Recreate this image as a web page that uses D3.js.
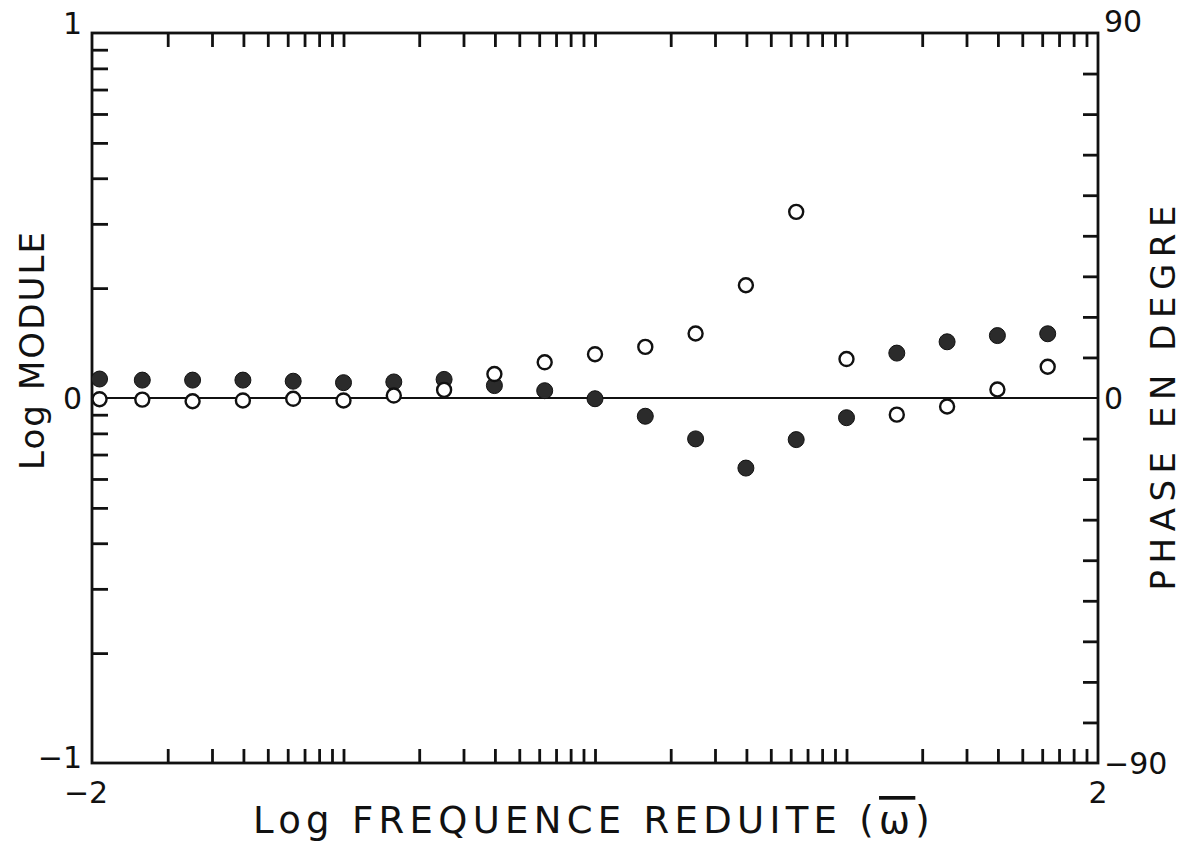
<!DOCTYPE html>
<html><head><meta charset="utf-8">
<script src="https://cdn.jsdelivr.net/npm/d3@7"></script>
<style>
html,body{margin:0;padding:0;background:#fff;}
svg text{font-family:"DejaVu Sans","Liberation Sans",sans-serif;fill:#111;}
</style></head>
<body>
<svg id="c" width="1185" height="845"></svg>
<script>
// Log reduced frequency (x) for each measurement
const logFreq = [-1.97,-1.8,-1.6,-1.4,-1.2,-1.0,-0.8,-0.6,-0.4,-0.2,0.0,0.2,0.4,0.6,0.8,1.0,1.2,1.4,1.6,1.8];
// Log module (filled circles, left axis)
const logModule = [0.052,0.049,0.049,0.049,0.046,0.042,0.044,0.051,0.034,0.020,-0.002,-0.050,-0.112,-0.192,-0.114,-0.054,0.123,0.154,0.171,0.176];
// Phase in degrees (open circles, right axis)
const phaseDeg = [-0.3,-0.4,-0.8,-0.6,-0.2,-0.6,0.6,2.0,5.9,8.8,10.8,12.6,15.9,27.8,45.9,9.6,-4.1,-2.1,2.1,7.7];

const xDecades = [-2,-1,0,1];
const minorMult = [2,3,4,5,6,7,8,9,10];
const phaseTicks = [-80,-70,-60,-50,-40,-30,-20,-10,10,20,30,40,50,60,70,80];
const leftLabels = [{v:1,t:"1"},{v:0,t:"0"},{v:-1,t:"\u22121"}];
const rightLabels = [{v:90,t:"90"},{v:0,t:"0"},{v:-90,t:"\u221290"}];
const bottomLabels = [{v:-2,t:"\u22122"},{v:2,t:"2"}];

const L=92,R=1098,T=33,B=763;
const svg=d3.select("#c");
const x=d3.scaleLinear().domain([-2,2]).range([L,R]);
const yM=d3.scaleLinear().domain([-1,1]).range([B,T]);
const yP=d3.scaleLinear().domain([-90,90]).range([B,T]);

const xTickVals=[];
xDecades.forEach(d=>minorMult.forEach(k=>{const v=d+Math.log10(k); if(v<2-1e-9) xTickVals.push(v);}));
const yTickVals=[];
minorMult.slice(0,8).forEach(k=>{yTickVals.push(Math.log10(k)); yTickVals.push(-1+Math.log10(k));});

function styleAxis(g){
  g.select(".domain").remove();
  g.selectAll(".tick line").attr("stroke","#111").attr("stroke-width",2.8);
  g.selectAll(".tick text").remove();
}
svg.append("g").attr("transform",`translate(0,${T})`).call(d3.axisTop(x).tickValues(xTickVals).tickSize(-14)).call(styleAxis);
svg.append("g").attr("transform",`translate(0,${B})`).call(d3.axisBottom(x).tickValues(xTickVals).tickSize(-14)).call(styleAxis);
svg.append("g").attr("transform",`translate(${L},0)`).call(d3.axisLeft(yM).tickValues(yTickVals).tickSize(-16)).call(styleAxis);
svg.append("g").attr("transform",`translate(${R},0)`).call(d3.axisRight(yP).tickValues(phaseTicks).tickSize(-15)).call(styleAxis);

// frame
svg.append("rect").attr("x",L).attr("y",T).attr("width",R-L).attr("height",B-T)
  .attr("fill","none").attr("stroke","#111").attr("stroke-width",2.8);
// zero line
svg.append("line").attr("x1",L).attr("x2",R).attr("y1",yM(0)).attr("y2",yM(0))
  .attr("stroke","#111").attr("stroke-width",2.2);

// tick labels
const lblSize=30;
svg.selectAll(".ll").data(leftLabels).join("text").attr("x",L-10)
  .attr("y",d=>d.v===1?yM(d.v)+1:(d.v===-1?yM(d.v)+5:yM(d.v)+11))
  .attr("text-anchor","end").attr("font-size",lblSize).text(d=>d.t);
svg.selectAll(".rl").data(rightLabels).join("text").attr("x",R+6)
  .attr("y",d=>d.v===90?yP(d.v)-1:yP(d.v)+11)
  .attr("text-anchor","start").attr("font-size",lblSize).text(d=>d.t);
svg.selectAll(".bl").data(bottomLabels).join("text").attr("x",d=>d.v<0?x(d.v)-6:x(d.v)).attr("y",B+40)
  .attr("text-anchor","middle").attr("font-size",lblSize).text(d=>d.t);

// axis titles
svg.append("text").attr("transform",`translate(44,351) rotate(-90)`).attr("text-anchor","middle")
  .attr("font-size",34).attr("textLength",238).attr("lengthAdjust","spacing").text("Log MODULE");
svg.append("text").attr("transform",`translate(1175,398) rotate(-90)`).attr("text-anchor","middle")
  .attr("font-size",34).attr("textLength",385).attr("lengthAdjust","spacing").text("PHASE EN DEGRE");
const bt=svg.append("text").attr("x",594).attr("y",833).attr("text-anchor","middle")
  .attr("font-size",37).style("letter-spacing","5.3px");
bt.append("tspan").text("Log FREQUENCE REDUITE (");
bt.append("tspan").style("text-decoration","overline").text("\u03C9");
bt.append("tspan").text(")");

// data points
const pts=logFreq.map((f,i)=>({f,m:logModule[i],p:phaseDeg[i]}));
svg.selectAll(".fill").data(pts).join("circle").attr("cx",d=>x(d.f)).attr("cy",d=>yM(d.m))
  .attr("r",8).attr("fill","#2b2b2b").attr("stroke","#111").attr("stroke-width",1);
svg.selectAll(".open").data(pts).join("circle").attr("cx",d=>x(d.f)).attr("cy",d=>yP(d.p))
  .attr("r",7).attr("fill","#fff").attr("stroke","#111").attr("stroke-width",2.4);
</script>
</body></html>
